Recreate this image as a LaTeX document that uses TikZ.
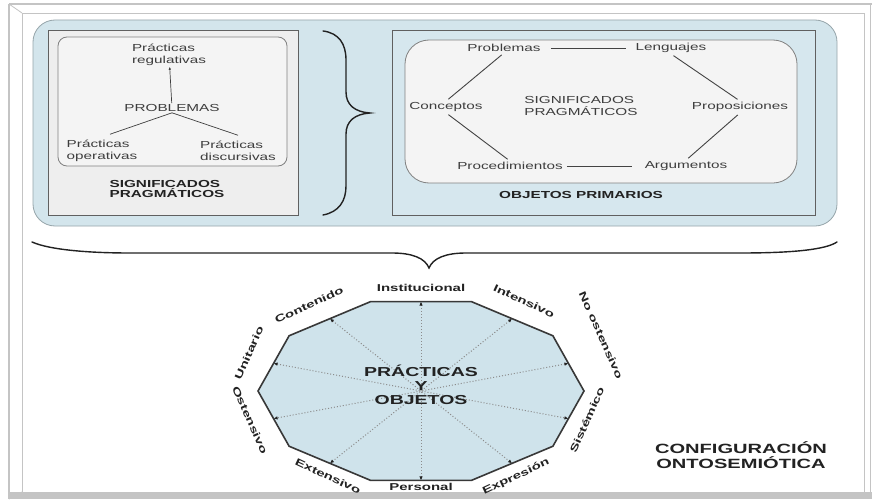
\documentclass[tikz,border=0pt]{standalone}
\usepackage{fontspec}
\setmainfont[FakeStretch=1.5]{Liberation Sans}
\usetikzlibrary{arrows.meta}

\definecolor{panelblue}{RGB}{211,229,236}
\definecolor{panelblueR}{RGB}{214,231,238}
\definecolor{panelborder}{RGB}{150,165,170}
\definecolor{greypanel}{RGB}{238,238,238}
\definecolor{innergrey}{RGB}{244,244,244}
\definecolor{txtc}{RGB}{62,62,62}
\definecolor{darkc}{RGB}{34,34,34}
\definecolor{framec}{RGB}{196,196,196}
\definecolor{decafill}{RGB}{207,227,235}

\newcommand\fsmall{\fontsize{10.2}{11.5}\selectfont}
\newcommand\fttl{\fontsize{10.2}{10.5}\selectfont\bfseries}
\newcommand\flab{\fontsize{10}{10}\selectfont\bfseries}
\newcommand\fbig{\fontsize{13}{14}\selectfont\bfseries}

\begin{document}
\begin{tikzpicture}[x=1pt,y=-1pt,
  txt/.style={font=\fsmall, text=txtc, inner sep=1pt},
  ttl/.style={font=\fttl, text=darkc, align=left, inner sep=1pt},
  dlab/.style={font=\flab, text=darkc, inner sep=0pt},
  conn/.style={draw=darkc!85, line width=0.9pt},
  bracepath/.style={draw=darkc, line width=1.4pt, line cap=round},
  axisline/.style={draw=gray!90, dotted, line width=1pt,
    {Latex[length=4pt,width=3.5pt,color=darkc]}-{Latex[length=4pt,width=3.5pt,color=darkc]}}
]
\useasboundingbox (0,0) rectangle (872,503);
\fill[white] (0,0) rectangle (872,503);

% page frame
\fill[framec] (9,492) rectangle (872,499);
\draw[framec, line width=1.2pt] (9,4) -- (872,4);
\draw[framec, line width=1.2pt] (9,4) -- (9,499);
\draw[framec, line width=0.9pt] (22,13) rectangle (864,492);
\draw[framec, line width=0.8pt] (9,4) -- (22,13);
\draw[framec, line width=0.8pt] (9,499) -- (22,492);
\draw[framec, line width=0.8pt] (870,4) -- (870,492);

% upper blue panel
\draw[draw=panelborder, fill=panelblue, line width=0.8pt, rounded corners=22pt]
  (33,20) rectangle (837,226);

% left box: pragmatic meanings
\draw[draw=gray!75!black, fill=greypanel, line width=0.8pt] (48,30) rectangle (298,215);
\draw[draw=gray, fill=innergrey, line width=0.8pt, rounded corners=9pt] (58,37) rectangle (287,166);

\node[txt, align=left] (regul) at (169,55) {Prácticas\\regulativas};
\node[txt] (prob) at (172,108) {PROBLEMAS};
\node[txt, align=left] (oper) at (102,151) {Prácticas\\operativas};
\node[txt, align=left] (disc) at (238,151) {Prácticas\\discursivas};
\node[ttl] (sigL) at (167,189) {SIGNIFICADOS\\PRAGMÁTICOS};

\draw[conn, draw=txtc, line width=0.7pt, -{Latex[length=3pt,width=2.5pt]}] (prob) -- (regul);
\draw[conn, draw=txtc, line width=0.7pt] (prob.south) -- ([shift={(8,-5)}]oper.north);
\draw[conn, draw=txtc, line width=0.7pt] (prob.south) -- ([shift={(0,-5)}]disc.north);

% vertical brace
\draw[bracepath] (323,31) .. controls (339,33) and (346,44) .. (346,60) -- (346,92)
  .. controls (346,105) and (355,112) .. (370,113)
  .. controls (355,114) and (346,121) .. (346,134) -- (346,186)
  .. controls (346,201) and (339,212) .. (323,215);

% right box: primary objects
\draw[draw=gray!75!black, fill=panelblueR, line width=0.8pt] (392,30) rectangle (815,215);
\draw[draw=gray, fill=innergrey, line width=0.8pt, rounded corners=24pt] (405,40) rectangle (797,183);

\node[txt] (prob2) at (504,48) {Problemas};
\node[txt] (leng) at (671,48) {Lenguajes};
\node[txt] (conc) at (446,107) {Conceptos};
\node[txt] (prop) at (740,107) {Proposiciones};
\node[txt] (proc) at (510,166) {Procedimientos};
\node[txt] (arg) at (686,166) {Argumentos};
\node[txt, align=left] (sigR) at (581,106) {SIGNIFICADOS\\PRAGMÁTICOS};
\node[ttl] (obj) at (581,195) {OBJETOS PRIMARIOS};

\draw[conn, shorten <=9pt, shorten >=9pt] (prob2) -- (leng);
\draw[conn, shorten <=3pt, shorten >=12pt] (proc) -- (arg);
\draw[conn, shorten <=3pt, shorten >=3pt] (prob2.south) -- (conc.north);
\draw[conn, shorten <=3pt, shorten >=3pt] (leng.south) -- (prop.north);
\draw[conn, shorten <=3pt, shorten >=3pt] (conc.south) -- (proc.north);
\draw[conn, shorten <=3pt, shorten >=3pt] (prop.south) -- (arg.north);

% horizontal brace
\draw[bracepath] (32,242) .. controls (50,250) and (90,253) .. (130,253) -- (392,253)
  .. controls (412,253) and (425,258) .. (429,268)
  .. controls (433,258) and (446,253) .. (466,253) -- (740,253)
  .. controls (790,253) and (825,250) .. (837,242);

% decagon of dual dimensions
\foreach \i in {0,...,9}
  \coordinate (v\i) at ({421+163*cos(36*\i)},{391-94*sin(36*\i)});
\foreach \i in {0,...,9}
  \coordinate (m\i) at ({421+163*(cos(36*\i)+cos(36*\i+36))/2},{391-94*(sin(36*\i)+sin(36*\i+36))/2});
\filldraw[fill=decafill, draw=darkc!90, line width=1.6pt, line join=miter]
  (v0) -- (v1) -- (v2) -- (v3) -- (v4) -- (v5) -- (v6) -- (v7) -- (v8) -- (v9) -- cycle;
\foreach \i/\j in {0/5,1/6,2/7,3/8,4/9}
  \draw[axisline] (m\i) -- (m\j);

\node[font=\fbig, text=darkc, align=center, inner sep=0pt]
  (po) at (421,385) {PRÁCTICAS\\Y\\OBJETOS};

\node[dlab] (lInst) at (421,288) {Institucional};
\node[dlab, rotate=-25] (lInt) at (524,301) {Intensivo};
\node[dlab, rotate=-66] (lNoo) at (601,335) {No ostensivo};
\node[dlab, rotate=66] (lSis) at (587,420) {Sistémico};
\node[dlab, rotate=25] (lExp) at (516,477) {Expresión};
\node[dlab] (lPer) at (421,487) {Personal};
\node[dlab, rotate=-25] (lExt) at (328,476) {Extensivo};
\node[dlab, rotate=-66] (lOst) at (250,420) {Ostensivo};
\node[dlab, rotate=66] (lUni) at (249,353) {Unitario};
\node[dlab, rotate=25] (lCon) at (309,305) {Contenido};

% caption
\node[font=\fontsize{13.4}{14.5}\selectfont\bfseries, text=darkc, align=center, inner sep=0pt]
  (conf) at (741,455) {CONFIGURACIÓN\\ONTOSEMIÓTICA};
\end{tikzpicture}
\end{document}
